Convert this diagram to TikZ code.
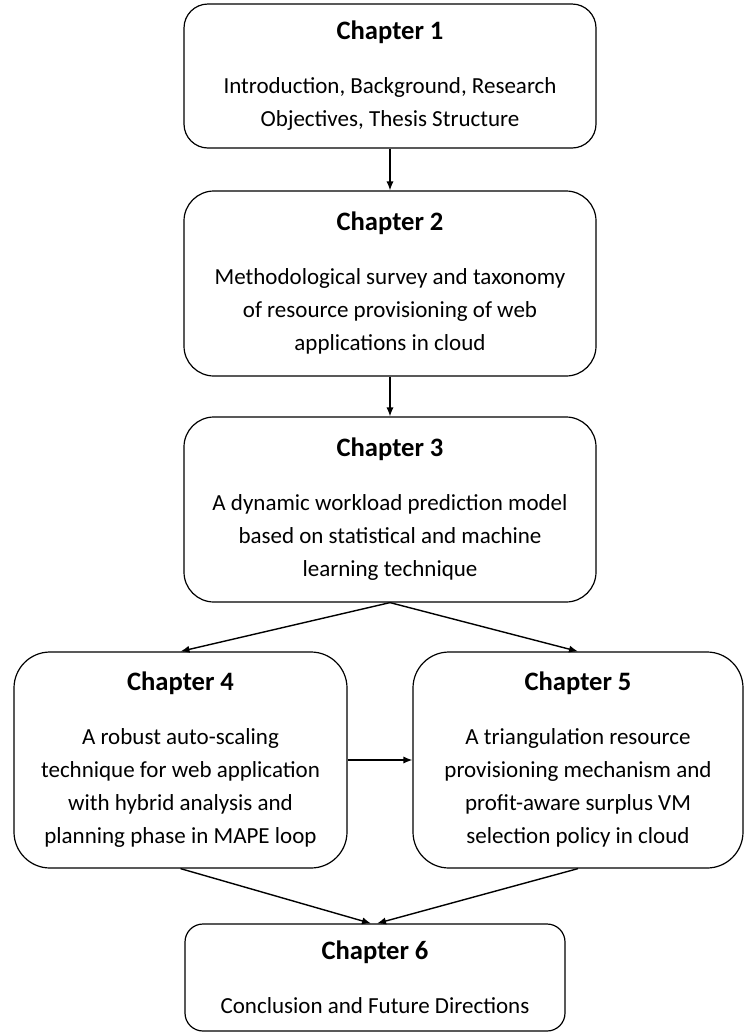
\documentclass[tikz,border=0pt]{standalone}
\usepackage{fontspec}
\setmainfont{Carlito}
\usetikzlibrary{arrows.meta}

\newcommand{\chaptitle}[1]{{\fontsize{13.3}{16.5}\selectfont\bfseries #1}\\[10.5pt]}

\begin{document}
\begin{tikzpicture}[x=0.5pt, y=-0.5pt,
        chapbox/.style={draw, line width=0.6pt, align=center, inner sep=0pt,
            font=\fontsize{11.5}{16.5}\selectfont},
        arr/.style={-{Latex[length=4.5pt, width=3.6pt]}, line width=0.7pt}]
        \useasboundingbox (0,0) rectangle (747,1034);
        \node[chapbox, minimum width=206pt, minimum height=72pt, rounded corners=12pt]
            (c1) at (390,76) {\chaptitle{Chapter 1}Introduction, Background, Research\\Objectives, Thesis Structure};
        \node[chapbox, minimum width=206pt, minimum height=92.5pt, rounded corners=15pt]
            (c2) at (390,283.5) {\chaptitle{Chapter 2}Methodological survey and taxonomy\\of resource provisioning of web\\applications in cloud};
        \node[chapbox, minimum width=206pt, minimum height=92.5pt, rounded corners=15pt]
            (c3) at (390,509.5) {\chaptitle{Chapter 3}A dynamic workload prediction model\\based on statistical and machine\\learning technique};
        \node[chapbox, minimum width=166.5pt, minimum height=108pt, rounded corners=18pt]
            (c4) at (180.5,760) {\chaptitle{Chapter 4}A robust auto-scaling\\technique for web application\\with hybrid analysis and\\planning phase in MAPE loop};
        \node[chapbox, minimum width=165pt, minimum height=108pt, rounded corners=18pt]
            (c5) at (578,760) {\chaptitle{Chapter 5}A triangulation resource\\provisioning mechanism and\\profit-aware surplus VM\\selection policy in cloud};
        \node[chapbox, minimum width=190pt, minimum height=53.5pt, rounded corners=9pt]
            (c6) at (375,977.5) {\chaptitle{Chapter 6}Conclusion and Future Directions};
        \draw[arr] (c1.south) -- (c2.north);
        \draw[arr] (c2.south) -- (c3.north);
        \draw[arr] (c3.south) -- (c4.north);
        \draw[arr] (c3.south) -- (c5.north);
        \draw[arr] (c4.east) -- (c5.west);
        \draw[arr] (c4.south) -- ([xshift=-2pt]c6.north);
        \draw[arr] (c5.south) -- ([xshift=1pt]c6.north);
    \end{tikzpicture}
\end{document}
